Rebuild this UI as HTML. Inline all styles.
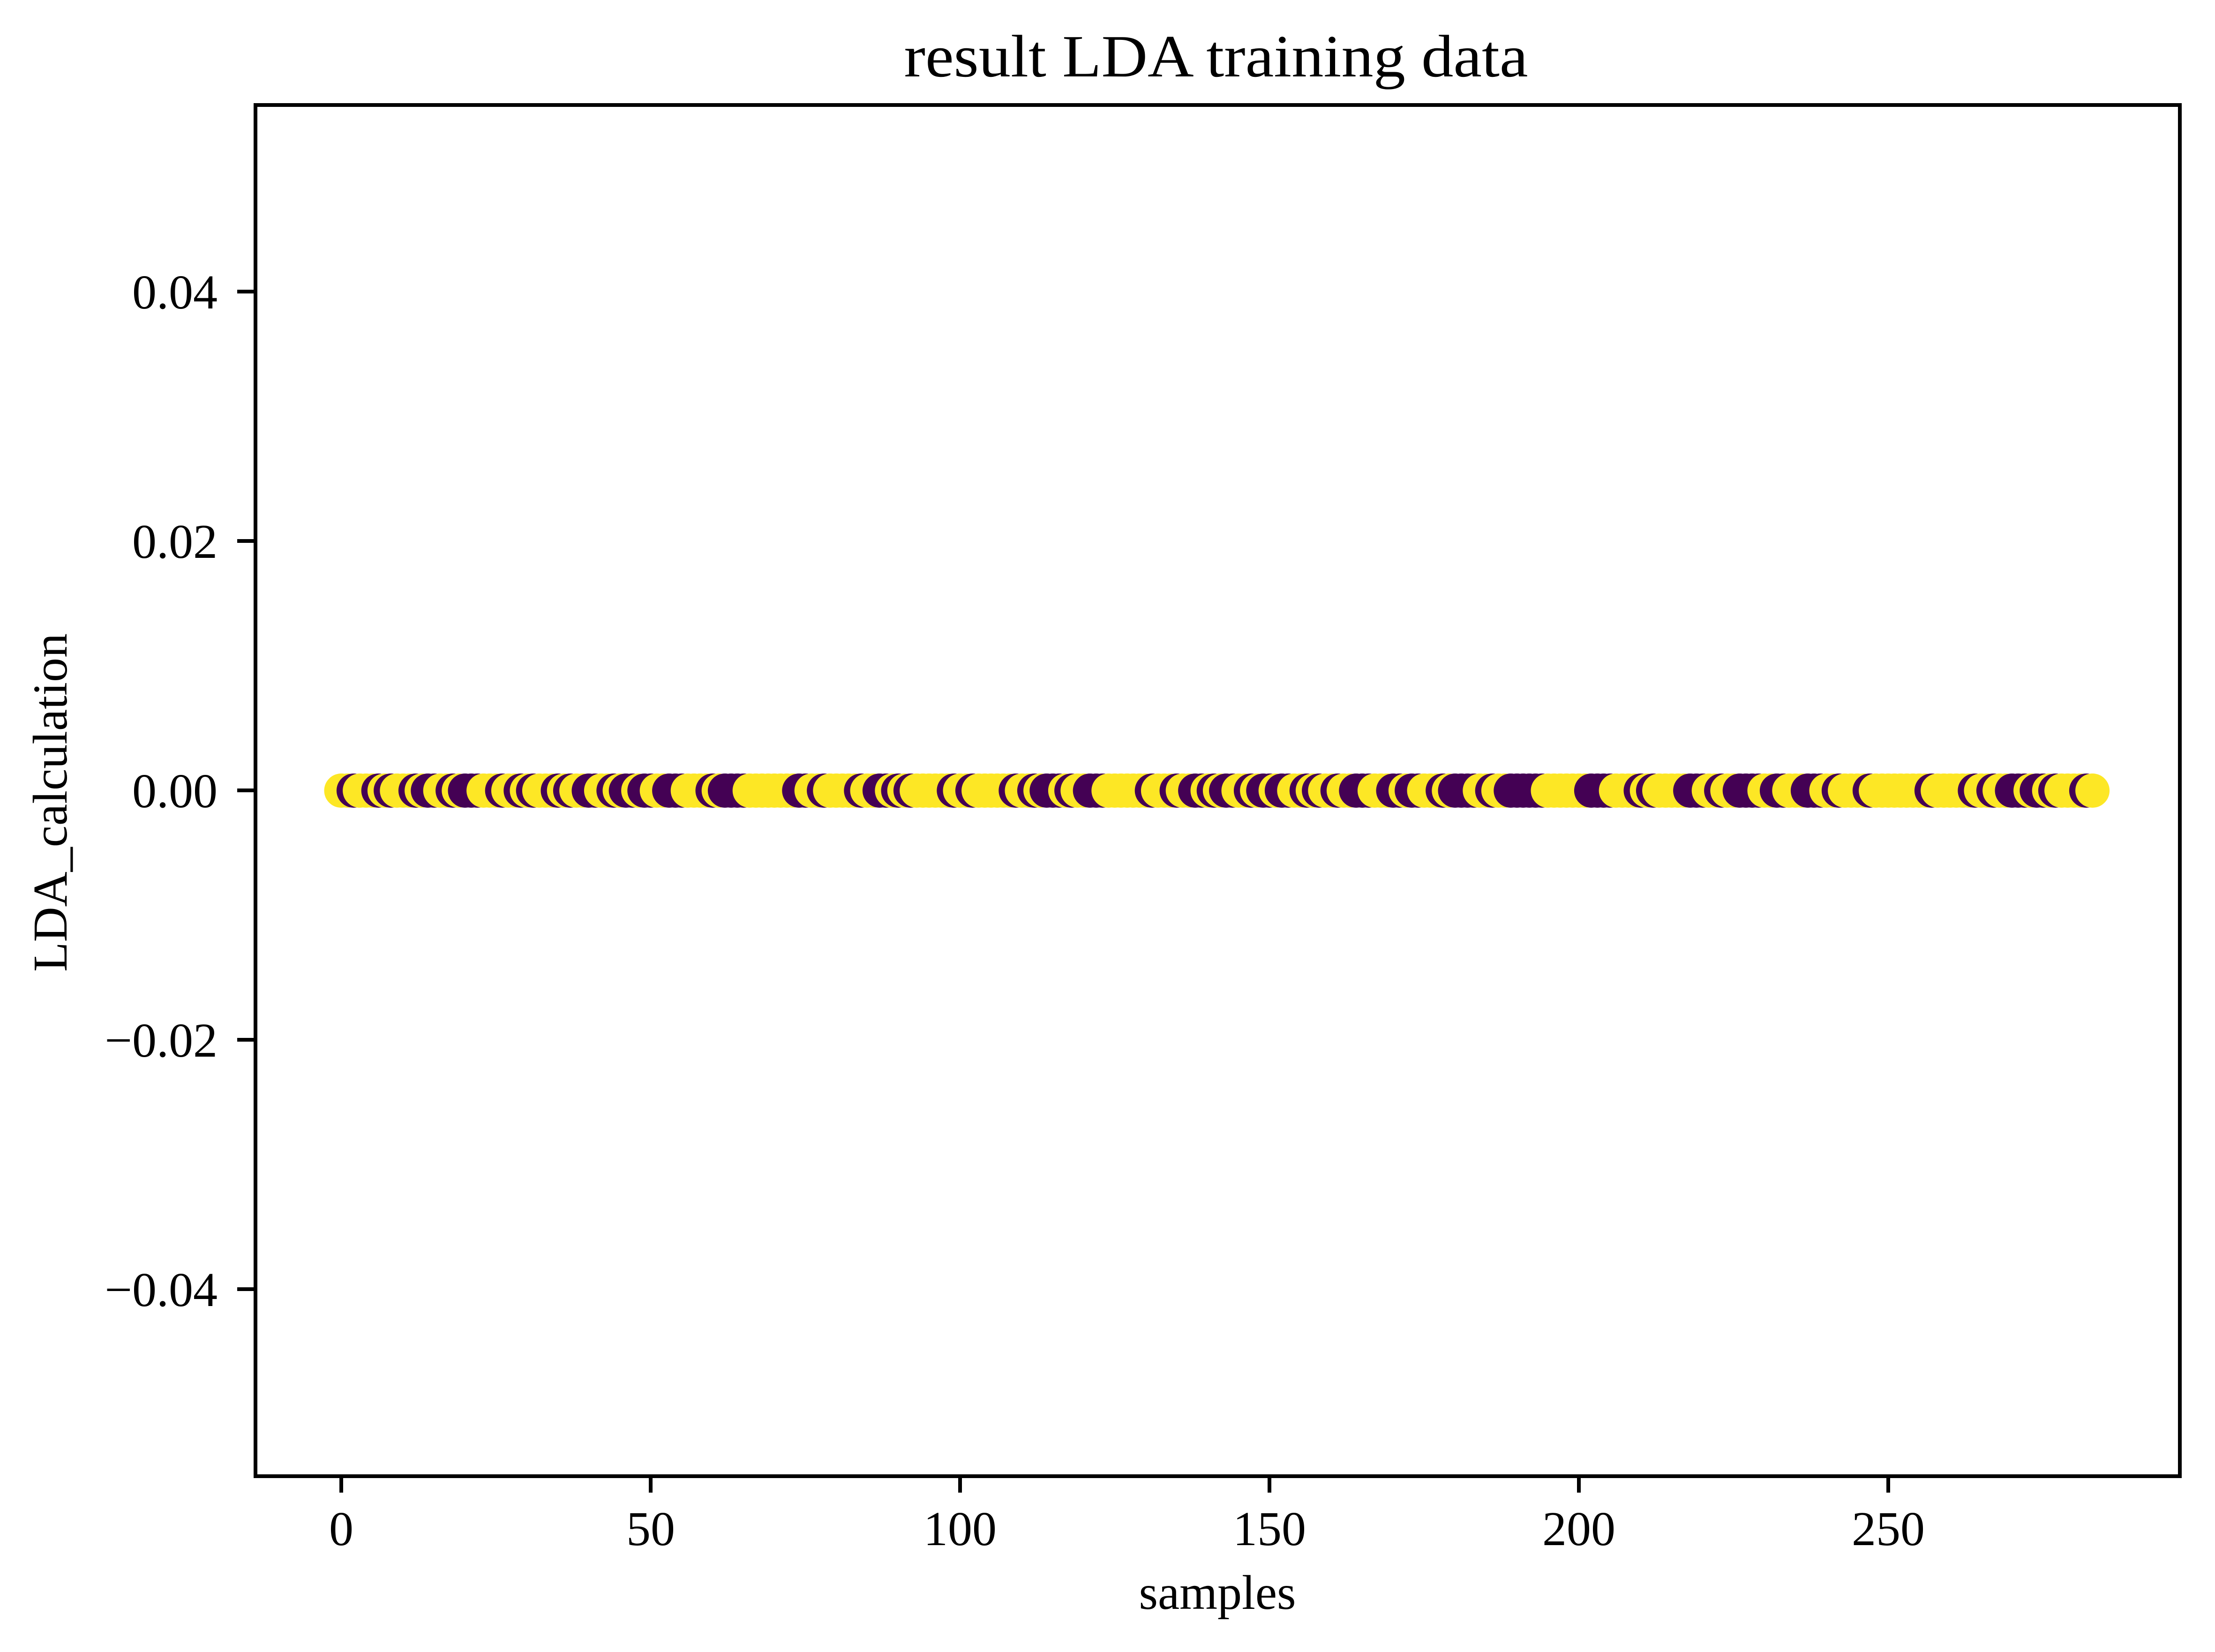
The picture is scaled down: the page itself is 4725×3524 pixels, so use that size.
<!DOCTYPE html>
<html><head><meta charset="utf-8"><style>
html,body{margin:0;padding:0;background:#fff;}
svg{display:block;}
text{font-family:"Liberation Serif",serif;fill:#000;}
</style></head><body>
<svg id="s" width="4725" height="3524" viewBox="0 0 4725 3524" xmlns="http://www.w3.org/2000/svg">
<rect width="4725" height="3524" fill="#fff"/>
<g id="pts"></g>
<rect x="545" y="224" width="4105" height="2925" fill="none" stroke="#000" stroke-width="8"/>
<g stroke="#000" stroke-width="8">
<line x1="728" y1="3149" x2="728" y2="3184"/>
<line x1="1388" y1="3149" x2="1388" y2="3184"/>
<line x1="2048" y1="3149" x2="2048" y2="3184"/>
<line x1="2708" y1="3149" x2="2708" y2="3184"/>
<line x1="3368" y1="3149" x2="3368" y2="3184"/>
<line x1="4028" y1="3149" x2="4028" y2="3184"/>
<line x1="506" y1="622" x2="545" y2="622"/>
<line x1="506" y1="1154" x2="545" y2="1154"/>
<line x1="506" y1="1686" x2="545" y2="1686"/>
<line x1="506" y1="2218" x2="545" y2="2218"/>
<line x1="506" y1="2750" x2="545" y2="2750"/>
</g>
<g font-size="104" text-anchor="middle">
<text x="728" y="3296">0</text>
<text x="1388" y="3296">50</text>
<text x="2048" y="3296">100</text>
<text x="2708" y="3296">150</text>
<text x="3368" y="3296">200</text>
<text x="4028" y="3296">250</text>
</g>
<g font-size="104" text-anchor="end">
<text x="464" y="658">0.04</text>
<text x="464" y="1190">0.02</text>
<text x="464" y="1722">0.00</text>
<text x="464" y="2254">−0.02</text>
<text x="464" y="2786">−0.04</text>
</g>
<text x="2597" y="3432" font-size="104" text-anchor="middle">samples</text>
<text transform="translate(142,1712) rotate(-90)" font-size="104" text-anchor="middle">LDA_calculation</text>
<text x="2594" y="163" font-size="128" text-anchor="middle" textLength="1331" lengthAdjust="spacingAndGlyphs">result LDA training data</text>
</svg>
<script>
var ch=[[0,'Y'],[2,'P'],[3,'Y'],[6,'P'],[7,'Y'],[8,'P'],[9,'Y'],[12,'P'],[13,'Y'],[14,'P'],[16,'Y'],[18,'P'],[19,'Y'],[20,'P'],[23,'Y'],[26,'P'],[27,'Y'],[29,'P'],[30,'Y'],[31,'P'],[32,'Y'],[35,'P'],[36,'Y'],[37,'P'],[38,'Y'],[40,'P'],[42,'Y'],[44,'P'],[45,'Y'],[46,'P'],[48,'Y'],[49,'P'],[51,'Y'],[53,'P'],[56,'Y'],[60,'P'],[61,'Y'],[62,'P'],[66,'Y'],[74,'P'],[76,'Y'],[78,'P'],[79,'Y'],[84,'P'],[85,'Y'],[87,'P'],[89,'Y'],[90,'P'],[91,'Y'],[92,'P'],[93,'Y'],[99,'P'],[100,'Y'],[102,'P'],[103,'Y'],[109,'P'],[110,'Y'],[112,'P'],[113,'Y'],[114,'P'],[117,'Y'],[118,'P'],[119,'Y'],[121,'P'],[124,'Y'],[131,'P'],[132,'Y'],[135,'P'],[136,'Y'],[138,'P'],[140,'Y'],[141,'P'],[142,'Y'],[143,'P'],[145,'Y'],[147,'P'],[148,'Y'],[149,'P'],[151,'Y'],[152,'P'],[154,'Y'],[156,'P'],[157,'Y'],[158,'P'],[159,'Y'],[161,'P'],[162,'Y'],[164,'P'],[167,'Y'],[170,'P'],[172,'Y'],[173,'P'],[175,'Y'],[178,'P'],[179,'Y'],[180,'P'],[184,'Y'],[186,'P'],[187,'Y'],[189,'P'],[195,'Y'],[202,'P'],[206,'Y'],[210,'P'],[211,'Y'],[212,'P'],[213,'Y'],[218,'P'],[221,'Y'],[223,'P'],[224,'Y'],[226,'P'],[230,'Y'],[232,'P'],[234,'Y'],[237,'P'],[240,'Y'],[242,'P'],[243,'Y'],[247,'P'],[248,'Y'],[257,'P'],[258,'Y'],[264,'P'],[265,'Y'],[267,'P'],[268,'Y'],[270,'P'],[273,'Y'],[274,'P'],[276,'Y'],[277,'P'],[278,'Y'],[282,'P'],[283,'Y']];
var col={Y:'#fde725',P:'#440154'};
var g=document.getElementById('pts'),h='',k=0,c='Y';
for(var i=0;i<=283;i++){
 while(k<ch.length&&ch[k][0]<=i){c=ch[k][1];k++;}
 h+='<circle cx="'+(728+13.2*i).toFixed(1)+'" cy="1686.5" r="36.5" fill="'+col[c]+'"/>';
}
g.innerHTML=h;
</script>
</body></html>
